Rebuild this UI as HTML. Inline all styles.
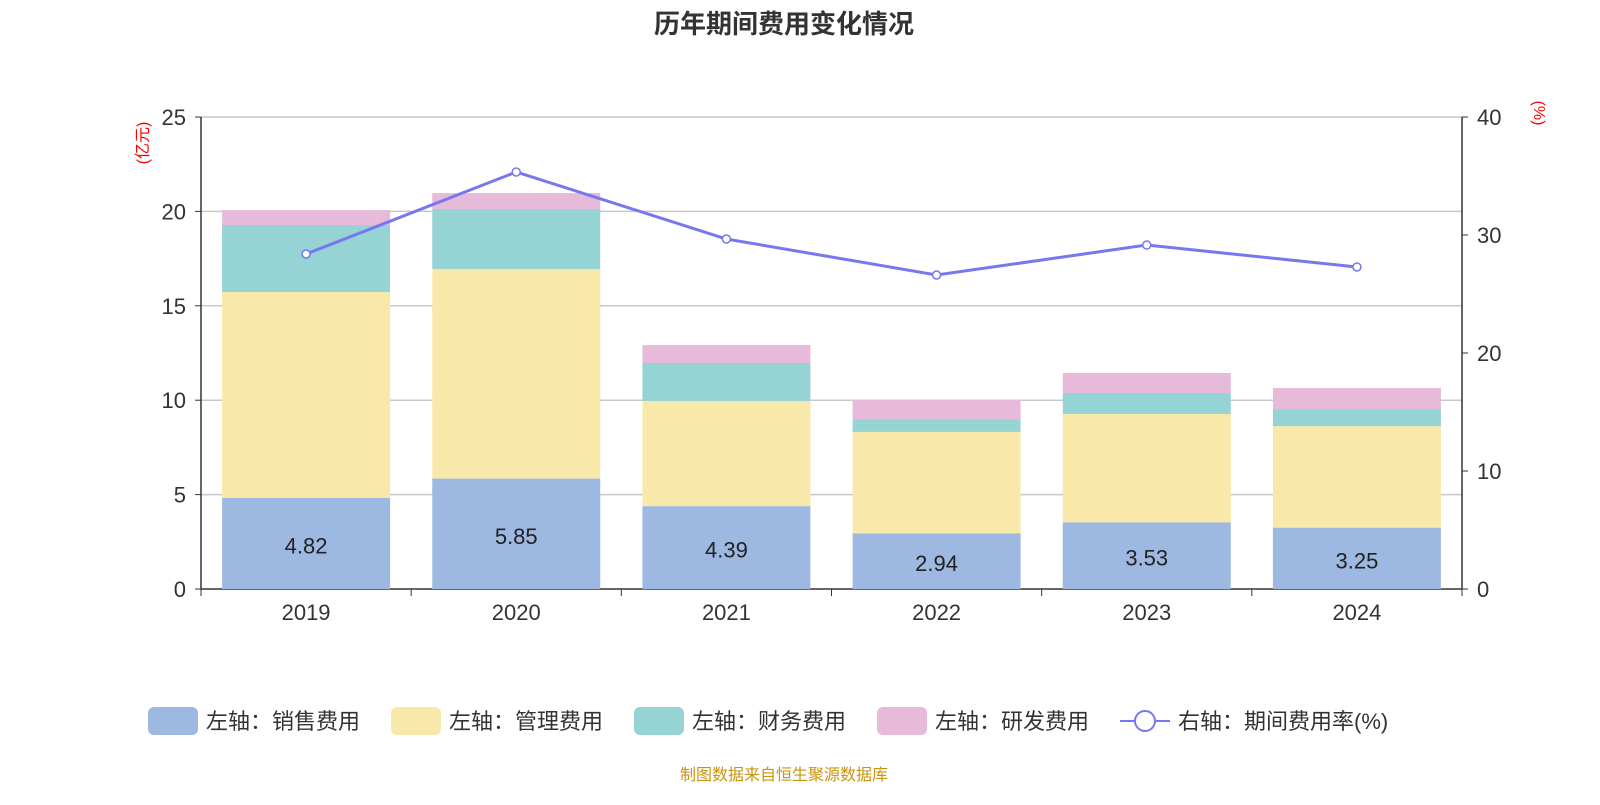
<!DOCTYPE html>
<html><head><meta charset="utf-8"><style>
body{margin:0;background:#fff;width:1600px;height:800px;overflow:hidden;font-family:"Liberation Sans","Noto Sans CJK SC",sans-serif}
</style></head><body>
<svg id="c" width="1600" height="800" xmlns="http://www.w3.org/2000/svg" font-family="Liberation Sans, Noto Sans CJK SC, sans-serif"></svg>
<script>
const categories=["2019","2020","2021","2022","2023","2024"];
const sales=[4.82,5.85,4.39,2.94,3.53,3.25];
const mgmt=[10.91,11.10,5.57,5.38,5.74,5.38];
const fin=[3.55,3.18,2.01,0.68,1.11,0.90];
const rd=[0.79,0.84,0.95,1.01,1.06,1.12];
const rate=[28.39,35.34,29.66,26.61,29.15,27.29];
const leftTicks=[0,5,10,15,20,25];
const rightTicks=[0,10,20,30,40];
const NS="http://www.w3.org/2000/svg";
const svg=document.getElementById('c');
const X0=201,X1=1462,Y0=589,Y1=117;
const bw=(X1-X0)/categories.length;
const yL=v=>Y0-(v/25)*(Y0-Y1);
const yR=v=>Y0-(v/40)*(Y0-Y1);
const xc=i=>X0+bw*(i+0.5);
function el(t,a,txt){const e=document.createElementNS(NS,t);for(const k in a)e.setAttribute(k,a[k]);if(txt!=null)e.textContent=txt;svg.appendChild(e);return e;}
let t=el('text',{x:784,y:33,'text-anchor':'middle','font-size':26,'font-weight':'bold',fill:'#333'},'历年期间费用变化情况');


leftTicks.forEach(v=>{
 if(v>0){const g=el('line',{x1:X0,x2:X1,y1:yL(v),y2:yL(v),stroke:'#c8c8c8','stroke-width':1.5});
 
 }
 const l=el('text',{x:186,y:yL(v)+8,'text-anchor':'end','font-size':22,fill:'#333'},v);
 
 
 el('line',{x1:X0-6,x2:X0,y1:yL(v),y2:yL(v),stroke:'#333'});
});
rightTicks.forEach(v=>{
 const l=el('text',{x:1477,y:yR(v)+8,'font-size':22,fill:'#333'},v);
 
 
 el('line',{x1:X1,x2:X1+6,y1:yR(v),y2:yR(v),stroke:'#333'});
});
el('line',{x1:X0,x2:X0,y1:Y1,y2:Y0,stroke:'#333','stroke-width':1.5});
el('line',{x1:X1,x2:X1,y1:Y1,y2:Y0,stroke:'#333','stroke-width':1.5});
el('line',{x1:X0,x2:X1,y1:Y0,y2:Y0,stroke:'#333','stroke-width':1.5});
let u=el('text',{x:0,y:0,'font-size':16,fill:'red',transform:'translate(148,143) rotate(-90)','text-anchor':'middle'},'(亿元)');


u=el('text',{x:0,y:0,'font-size':16,fill:'red',transform:'translate(1534,113) rotate(90)','text-anchor':'middle'},'(%)');


const series=[[sales,'#9db8e1','sales'],[mgmt,'#f8e8aa','mgmt'],[fin,'#96d3d4','finance'],[rd,'#e6bad8','rd']];
categories.forEach((c,i)=>{
 el('line',{x1:X0+bw*i,x2:X0+bw*i,y1:Y0,y2:Y0+7,stroke:'#333'});
 const lab=el('text',{x:xc(i),y:620,'text-anchor':'middle','font-size':22,fill:'#333'},c);
 
 
 let base=0;
 series.forEach(([arr,col,nm])=>{
  const r=el('rect',{x:xc(i)-84,width:168,y:yL(base+arr[i]),height:yL(base)-yL(base+arr[i]),fill:col});
  
  
  base+=arr[i];
 });
 const v=el('text',{x:xc(i),y:(yL(sales[i])+Y0)/2+10,'text-anchor':'middle','font-size':22,fill:'#222'},sales[i].toFixed(2));
 
 
});
el('line',{x1:X1,x2:X1,y1:Y0,y2:Y0+7,stroke:'#333'});
const pl=el('polyline',{points:rate.map((v,i)=>xc(i)+','+yR(v)).join(' '),fill:'none',stroke:'#7678ee','stroke-width':3});


rate.forEach((v,i)=>{const p=el('circle',{cx:xc(i),cy:yR(v),r:4,fill:'#fff',stroke:'#7678ee','stroke-width':1.5});
 
 });
const leg=[['#9db8e1','左轴：销售费用',148],['#f8e8aa','左轴：管理费用',391],['#96d3d4','左轴：财务费用',634],['#e6bad8','左轴：研发费用',877]];
leg.forEach(([col,txt,x])=>{
 const r=el('rect',{x:x,y:707,width:50,height:28,rx:6,fill:col});
 
 
 const l=el('text',{x:x+58,y:729,'font-size':22,fill:'#333'},txt);
 
 
});
el('line',{x1:1120,x2:1170,y1:721,y2:721,stroke:'#7678ee','stroke-width':2});
el('circle',{cx:1145,cy:721,r:10,fill:'#fff',stroke:'#7678ee','stroke-width':2});
let l=el('text',{x:1178,y:729,'font-size':22,fill:'#333'},'右轴：期间费用率(%)');


l=el('text',{x:784,y:780,'text-anchor':'middle','font-size':16,fill:'#c9950c'},'制图数据来自恒生聚源数据库');


</script>
</body></html>
